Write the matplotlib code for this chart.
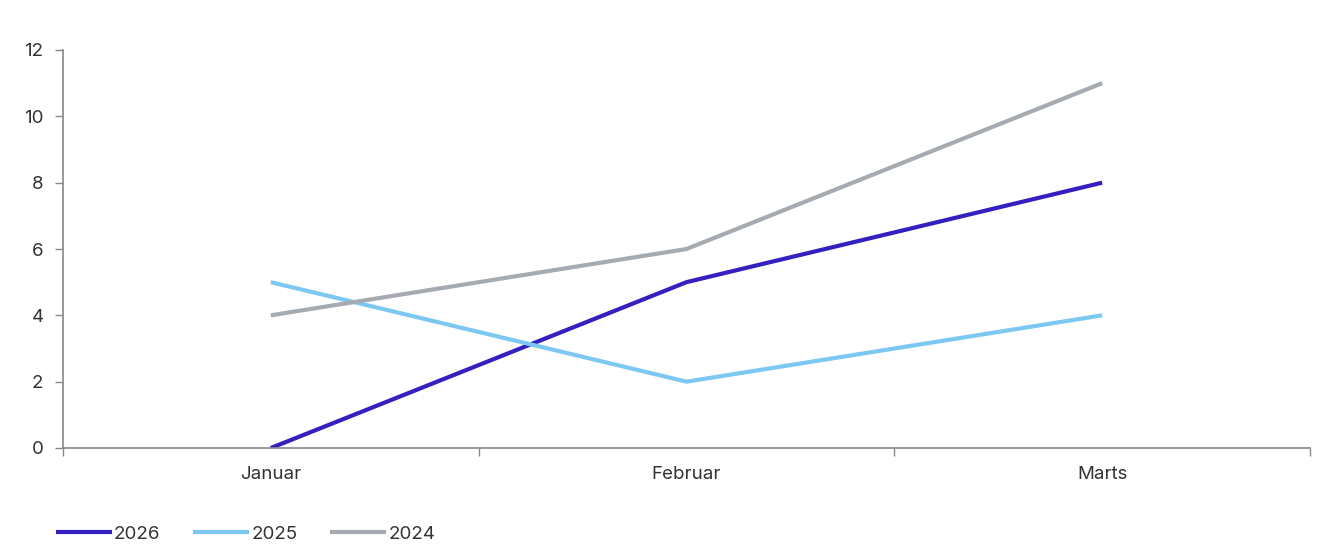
import matplotlib.pyplot as plt
from matplotlib.ticker import FixedLocator

plt.rcParams['font.family'] = ['Inter', 'DejaVu Sans']

# ---- data ----
months = ['Januar', 'Februar', 'Marts']
s2026 = [0, 5, 8]
s2025 = [5, 2, 4]
s2024 = [4, 6, 11]

colors = {'2026': '#3420c0', '2025': '#7dc8f2', '2024': '#a6abb2'}

fig = plt.figure(figsize=(13.35, 5.56), dpi=100)
ax = fig.add_axes([63 / 1335, 1 - 448 / 556, (1310 - 63) / 1335, (448 - 50) / 556])

x = range(len(months))
ax.plot(x, s2026, color=colors['2026'], lw=3, label='2026', solid_capstyle='butt')
ax.plot(x, s2025, color=colors['2025'], lw=3, label='2025', solid_capstyle='butt')
ax.plot(x, s2024, color=colors['2024'], lw=3, label='2024', solid_capstyle='butt')

ax.set_xlim(-0.5, len(months) - 0.5)
ax.set_ylim(0, 12)
ax.set_yticks(range(0, 13, 2))

ax.set_xticks(list(x))
ax.set_xticklabels(months)
ax.xaxis.set_minor_locator(FixedLocator([-0.5, 0.5, 1.5, 2.5]))
ax.tick_params(axis='x', which='major', length=0, pad=13, labelsize=13.5, colors='#333333')
ax.tick_params(axis='x', which='minor', length=6, width=1, color='#888888')
ax.tick_params(axis='y', length=6, width=1, color='#888888', pad=8, labelsize=13.5, labelcolor='#333333')

for s in ['top', 'right']:
    ax.spines[s].set_visible(False)
for s in ['left', 'bottom']:
    ax.spines[s].set_color('#888888')
    ax.spines[s].set_linewidth(1.2)

leg = fig.legend(loc='lower left', bbox_to_anchor=(0.029, -0.007), ncol=3, frameon=False,
                 fontsize=13.5, handlelength=3.0, handletextpad=0.1, columnspacing=1.75)
for t in leg.get_texts():
    t.set_color('#333333')

fig.savefig('out.png', dpi=100)
